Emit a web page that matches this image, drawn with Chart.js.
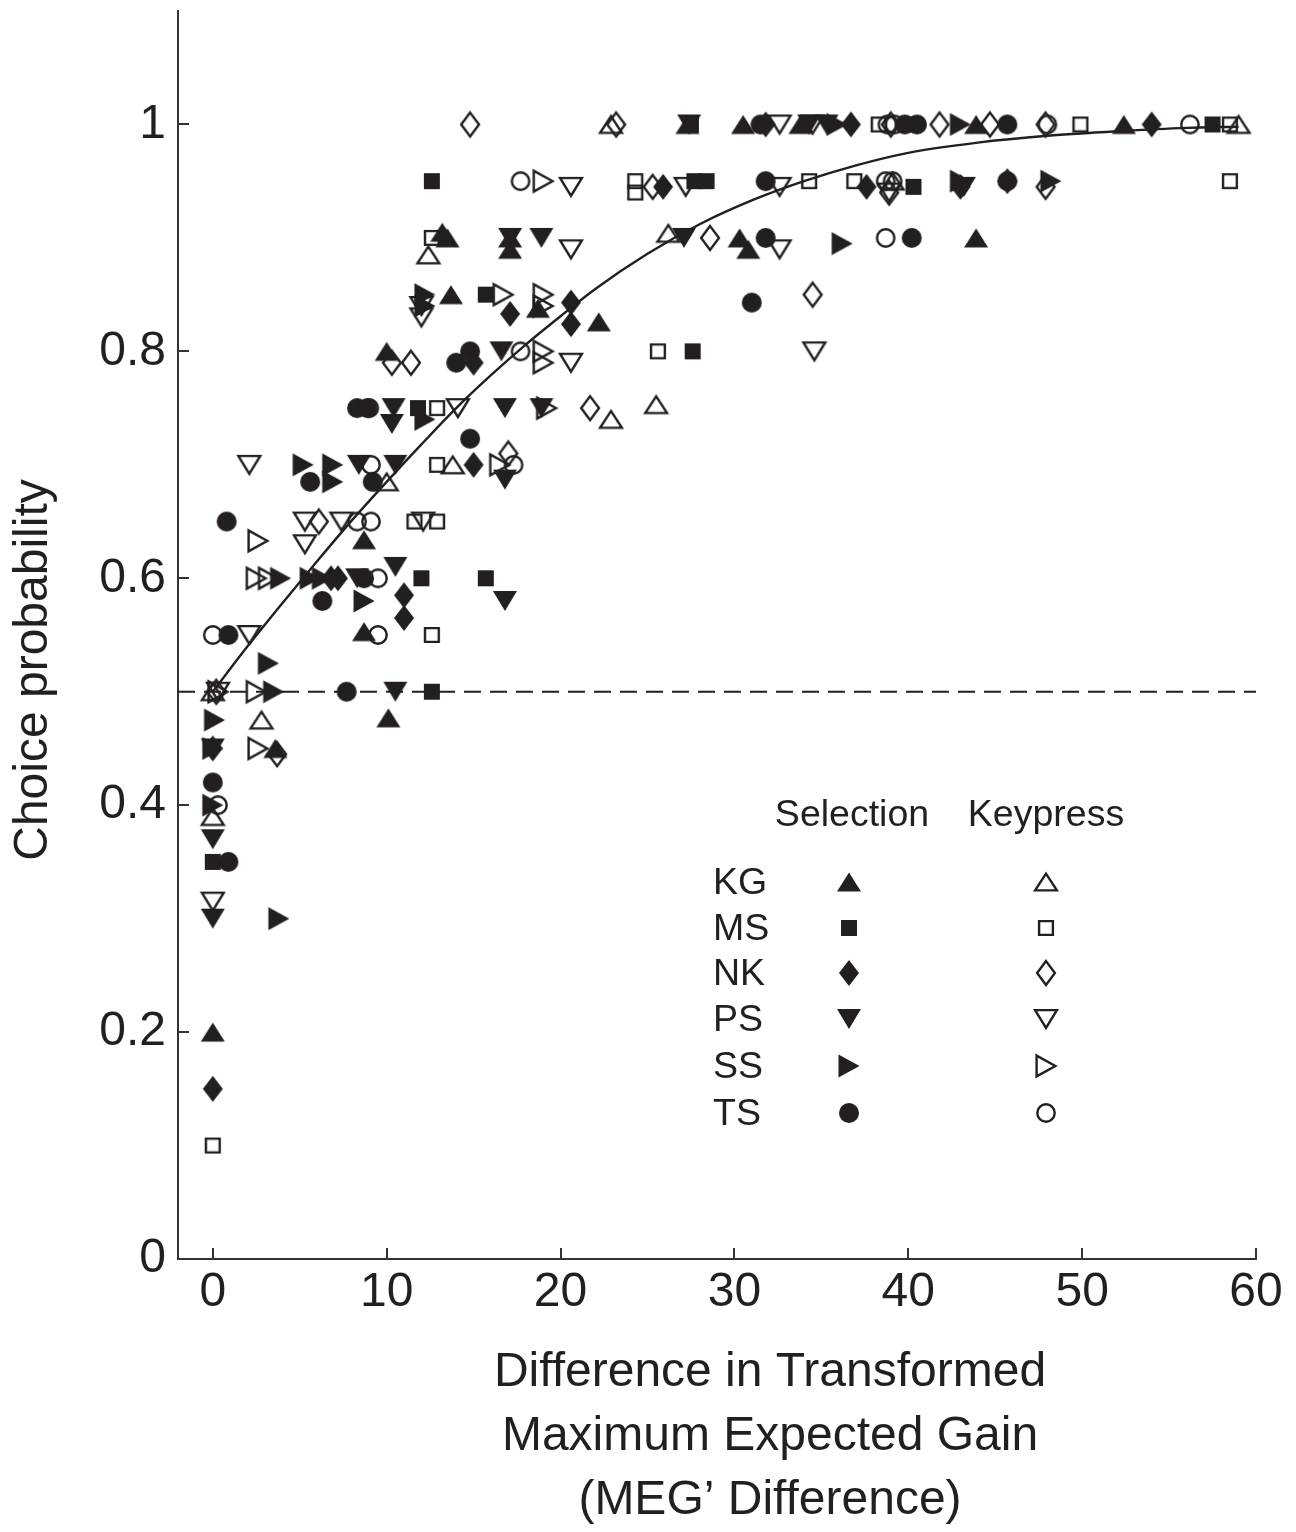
<!DOCTYPE html>
<html>
<head>
<meta charset="utf-8">
<script src="https://cdn.jsdelivr.net/npm/chart.js@4/dist/chart.umd.min.js"></script>
<style>
  html, body { margin: 0; padding: 0; background: #ffffff; overflow: hidden; }
  #wrap { width: 1296px; height: 1532px; position: relative; }
</style>
</head>
<body>
<div id="wrap"><canvas id="c" width="1296" height="1532"></canvas></div>
<script>
// ---------------- DATA ----------------
const xTicks = [0, 10, 20, 30, 40, 50, 60];
const xTickLabels = ['0', '10', '20', '30', '40', '50', '60'];
const yTicks = [0, 0.2, 0.4, 0.6, 0.8, 1];
const yTickLabels = ['0', '0.2', '0.4', '0.6', '0.8', '1'];

const subjects = ['KG', 'MS', 'NK', 'PS', 'SS', 'TS'];
const legendHeaders = ['Selection', 'Keypress'];
const xTitleLines = ['Difference in Transformed', 'Maximum Expected Gain', '(MEG\u2019 Difference)'];
const yTitle = 'Choice probability';

// KG
const kgSelX = [0, 10.1, 8.7, 8.7, 10.0, 13.7, 13.5, 13.2, 17.1, 17.1, 18.7, 22.2, 3.6, 27.3, 30.5, 33.8, 43.9, 52.4, 30.3, 30.8, 43.9];
const kgSelY = [0.2, 0.477, 0.553, 0.634, 0.8, 0.85, 0.9, 0.905, 0.9, 0.89, 0.838, 0.826, 0.45, 1, 1, 1, 1, 1, 0.9, 0.89, 0.9];
const kgKeyX = [0, 2.8, 10.0, 12.4, 13.8, 22.9, 25.5, 26.2, 22.9, 59.0, 39.1, 0];
const kgKeyY = [0.39, 0.475, 0.685, 0.885, 0.7, 0.74, 0.753, 0.904, 1, 1, 0.95, 0.5];
// MS
const msSelX = [12.6, 0, 12.0, 12.6, 11.8, 15.7, 15.7, 27.6, 27.5, 27.7, 28.4, 40.3, 57.5, 40.0];
const msSelY = [0.95, 0.35, 0.6, 0.5, 0.75, 0.6, 0.85, 0.8, 1, 0.95, 0.95, 0.945, 1, 1];
const msKeyX = [0, 12.6, 12.6, 11.6, 12.9, 12.9, 12.9, 24.3, 24.3, 25.6, 34.3, 36.9, 38.3, 49.9, 58.5, 58.5];
const msKeyY = [0.1, 0.9, 0.55, 0.65, 0.65, 0.7, 0.75, 0.95, 0.94, 0.8, 0.95, 0.95, 1, 1, 0.95, 1];
// NK
const nkSelX = [0, 11.0, 11.0, 15.0, 15.0, 17.1, 20.6, 20.6, 25.9, 36.7, 31.8, 54.0, 43.0, 45.7, 37.6, 6.8, 7.2, 0];
const nkSelY = [0.15, 0.585, 0.565, 0.7, 0.79, 0.833, 0.824, 0.843, 0.945, 1, 1, 1, 0.945, 0.95, 0.945, 0.6, 0.6, 0.45];
const nkKeyX = [14.8, 23.2, 28.6, 34.5, 21.7, 17.0, 11.4, 10.3, 6.1, 3.7, 0.2, 41.8, 44.7, 47.9, 47.9, 38.9, 25.3, 39.0];
const nkKeyY = [1, 1, 0.9, 0.85, 0.75, 0.71, 0.79, 0.79, 0.65, 0.445, 0.5, 1, 1, 1, 0.945, 0.94, 0.945, 1];
// PS
const psSelX = [0, 0, 0, 10.5, 16.8, 10.5, 10.5, 8.4, 10.4, 10.3, 16.8, 16.8, 18.9, 18.9, 17.1, 27.1, 16.6, 27.4, 35.3, 34.3, 43.2, 8.3];
const psSelY = [0.3, 0.37, 0.45, 0.5, 0.58, 0.61, 0.7, 0.7, 0.75, 0.736, 0.75, 0.687, 0.75, 0.9, 0.9, 0.9, 0.8, 1, 1, 1, 0.945, 0.6];
const psKeyX = [0, 2.1, 2.1, 5.3, 5.3, 7.4, 12.1, 12.0, 12.0, 14.1, 20.6, 20.6, 20.6, 27.2, 32.6, 32.6, 32.6, 34.6, 38.9, 34.5, 0.3];
const psKeyY = [0.315, 0.7, 0.55, 0.65, 0.63, 0.65, 0.65, 0.83, 0.84, 0.75, 0.89, 0.945, 0.79, 0.945, 1, 0.945, 0.89, 0.8, 0.94, 1, 0.5];
// SS
const ssSelX = [3.8, 0.1, 3.2, 3.5, 3.9, 5.2, 6.9, 6.9, 8.7, 12.2, 12.2, 12.2, 36.2, 35.9, 43.0, 43.0, 48.2, 5.6, 6.3, 0, 0];
const ssSelY = [0.3, 0.475, 0.525, 0.5, 0.6, 0.7, 0.7, 0.685, 0.58, 0.85, 0.84, 0.74, 0.895, 1, 1, 0.95, 0.95, 0.6, 0.6, 0.4, 0.45];
const ssKeyX = [2.6, 2.5, 3.2, 2.5, 2.6, 0.3, 16.7, 19.0, 19.0, 19.0, 19.0, 19.0, 16.5, 19.2];
const ssKeyY = [0.633, 0.6, 0.6, 0.5, 0.45, 0.5, 0.85, 0.85, 0.84, 0.8, 0.79, 0.95, 0.7, 0.75];
// TS
const tsSelX = [0.8, 0.9, 0.9, 0, 6.3, 7.7, 8.3, 8.9, 9.2, 14.0, 14.8, 14.8, 31.0, 31.8, 31.8, 40.2, 31.5, 45.7, 45.7, 39.8, 40.5, 8.7, 5.6];
const tsSelY = [0.65, 0.55, 0.35, 0.42, 0.58, 0.5, 0.75, 0.75, 0.685, 0.79, 0.8, 0.723, 0.843, 0.9, 0.95, 0.9, 1, 1, 0.95, 1, 1, 0.6, 0.685];
const tsKeyX = [0, 0.3, 9.1, 8.3, 9.5, 9.5, 9.1, 17.7, 17.7, 17.3, 38.7, 38.7, 39.1, 48.0, 56.2, 38.8, 39.2, 9.0];
const tsKeyY = [0.55, 0.4, 0.65, 0.65, 0.6, 0.55, 0.7, 0.95, 0.8, 0.7, 0.9, 0.95, 0.95, 1, 1, 1, 1, 0.75];

// fitted curve
const curveX = [0, 2, 4, 6, 8, 10, 12, 14, 16, 18, 20, 22, 25, 28, 31, 34, 37, 40, 44, 48, 52, 56, 59];
const curveY = [0.50, 0.54, 0.578, 0.615, 0.651, 0.685, 0.718, 0.75, 0.779, 0.806, 0.831, 0.855, 0.886, 0.912, 0.933, 0.95, 0.964, 0.975, 0.984, 0.99, 0.994, 0.997, 0.998];
// chance line
const chanceX = [-2, 60];
const chanceY = [0.5, 0.5];

// ---------------- MARKERS ----------------
const INK = '#231f20';
function makeMarker(shape, filled) {
  const c = document.createElement('canvas');
  c.width = 32; c.height = 32;
  const g = c.getContext('2d');
  const cx = 16, cy = 16;
  const k = filled ? 0 : 1.1; // inset for stroke
  g.beginPath();
  let w, h;
  switch (shape) {
    case 'up':
      w = 24 - 2 * k; h = 19 - 2 * k;
      g.moveTo(cx, cy - h / 2); g.lineTo(cx + w / 2, cy + h / 2); g.lineTo(cx - w / 2, cy + h / 2); g.closePath();
      break;
    case 'down':
      w = 24 - 2 * k; h = 20 - 2 * k;
      g.moveTo(cx - w / 2, cy - h / 2); g.lineTo(cx + w / 2, cy - h / 2); g.lineTo(cx, cy + h / 2); g.closePath();
      break;
    case 'right':
      w = 21 - 2 * k; h = 23 - 2 * k;
      g.moveTo(cx + w / 2, cy); g.lineTo(cx - w / 2, cy - h / 2); g.lineTo(cx - w / 2, cy + h / 2); g.closePath();
      break;
    case 'square':
      w = filled ? 16 : 16 - 2 * k;
      g.rect(cx - w / 2, cy - w / 2, w, w);
      break;
    case 'diamond':
      w = 20 - 2 * k; h = 26 - 2 * k;
      g.moveTo(cx, cy - h / 2); g.lineTo(cx + w / 2, cy); g.lineTo(cx, cy + h / 2); g.lineTo(cx - w / 2, cy); g.closePath();
      break;
    case 'circle':
      g.arc(cx, cy, filled ? 10 : 9.8 - k, 0, Math.PI * 2);
      break;
  }
  if (filled) { g.fillStyle = INK; g.fill(); }
  else { g.strokeStyle = INK; g.lineWidth = 2.4; g.lineJoin = 'miter'; g.stroke(); }
  return c;
}

const shapes = ['up', 'square', 'diamond', 'down', 'right', 'circle'];
const selMarkers = shapes.map(s => makeMarker(s, true));
const keyMarkers = shapes.map(s => makeMarker(s, false));

function pts(xs, ys) { return xs.map((x, i) => ({ x: x, y: ys[i] })); }

const selSeries = [[kgSelX, kgSelY], [msSelX, msSelY], [nkSelX, nkSelY], [psSelX, psSelY], [ssSelX, ssSelY], [tsSelX, tsSelY]];
const keySeries = [[kgKeyX, kgKeyY], [msKeyX, msKeyY], [nkKeyX, nkKeyY], [psKeyX, psKeyY], [ssKeyX, ssKeyY], [tsKeyX, tsKeyY]];

const datasets = [];
datasets.push({
  type: 'line', label: 'fit', data: pts(curveX, curveY),
  borderColor: INK, borderWidth: 2.4, pointRadius: 0, fill: false,
  cubicInterpolationMode: 'monotone', clip: false
});
datasets.push({
  type: 'line', label: 'chance', data: pts(chanceX, chanceY),
  borderColor: INK, borderWidth: 2, borderDash: [17, 9], pointRadius: 0, fill: false, clip: false
});
subjects.forEach((s, i) => {
  datasets.push({
    type: 'scatter', label: s + ' Selection', data: pts(selSeries[i][0], selSeries[i][1]),
    pointStyle: selMarkers[i], pointRadius: 10, clip: false
  });
});
subjects.forEach((s, i) => {
  datasets.push({
    type: 'scatter', label: s + ' Keypress', data: pts(keySeries[i][0], keySeries[i][1]),
    pointStyle: keyMarkers[i], pointRadius: 10, clip: false
  });
});

const FONT = '"Liberation Sans", Arial, Helvetica, sans-serif';

const decor = {
  id: 'decor',
  afterDraw(chart) {
    const ctx = chart.ctx;
    const xs = chart.scales.x, ys = chart.scales.y;
    const area = chart.chartArea;
    ctx.save();
    // inward tick marks
    ctx.strokeStyle = '#333333';
    ctx.lineWidth = 2;
    ctx.beginPath();
    xTicks.forEach(v => {
      const px = Math.round(xs.getPixelForValue(v));
      ctx.moveTo(px, area.bottom); ctx.lineTo(px, area.bottom - 11);
    });
    yTicks.forEach(v => {
      const py = Math.round(ys.getPixelForValue(v));
      ctx.moveTo(area.left, py); ctx.lineTo(area.left + 11, py);
    });
    ctx.stroke();

    // axis titles
    ctx.fillStyle = INK;
    ctx.font = '48px ' + FONT;
    ctx.textAlign = 'center';
    ctx.textBaseline = 'middle';
    xTitleLines.forEach((t, i) => ctx.fillText(t, 770, 1373 + i * 64));
    ctx.save();
    ctx.translate(34, 670);
    ctx.rotate(-Math.PI / 2);
    ctx.fillText(yTitle, 0, 0);
    ctx.restore();

    // legend
    ctx.font = '37.5px ' + FONT;
    ctx.textAlign = 'center';
    ctx.fillText(legendHeaders[0], 852, 816);
    ctx.fillText(legendHeaders[1], 1046, 816);
    const rowsY = [884, 930, 975, 1021, 1068, 1115];
    ctx.textAlign = 'left';
    subjects.forEach((s, i) => {
      ctx.fillText(s, 713, rowsY[i]);
      const a = selMarkers[i], b = keyMarkers[i];
      ctx.drawImage(a, 849 - a.width / 2, rowsY[i] - 2 - a.height / 2);
      ctx.drawImage(b, 1046 - b.width / 2, rowsY[i] - 2 - b.height / 2);
    });
    ctx.restore();
  }
};

new Chart(document.getElementById('c'), {
  type: 'scatter',
  data: { datasets: datasets },
  options: {
    responsive: false,
    animation: false,
    devicePixelRatio: 1,
    layout: { padding: { left: 0, right: 40, top: 8, bottom: 0 } },
    plugins: { legend: { display: false }, tooltip: { enabled: false }, title: { display: false } },
    scales: {
      x: {
        type: 'linear', min: -2, max: 60,
        grid: { display: false, drawTicks: false },
        border: { display: true, color: '#333333', width: 2 },
        afterBuildTicks: (scale) => { scale.ticks = xTicks.map(v => ({ value: v })); },
        afterFit: (scale) => { scale.height = 1532 - 1259; scale.paddingLeft = 0; scale.paddingRight = 0; },
        ticks: {
          color: INK, font: { family: FONT, size: 48 }, padding: 5, maxRotation: 0, autoSkip: false,
          callback: (v) => { const i = xTicks.indexOf(v); return i >= 0 ? xTickLabels[i] : ''; }
        }
      },
      y: {
        type: 'linear', min: 0, max: 1.1,
        grid: { display: false, drawTicks: false },
        border: { display: true, color: '#333333', width: 2 },
        afterBuildTicks: (scale) => { scale.ticks = yTicks.map(v => ({ value: v })); },
        afterFit: (scale) => { scale.width = 178; scale.paddingTop = 0; scale.paddingBottom = 0; },
        ticks: {
          color: INK, font: { family: FONT, size: 48 }, padding: 12, autoSkip: false,
          callback: (v) => { const i = yTicks.findIndex(t => Math.abs(t - v) < 1e-9); return i >= 0 ? yTickLabels[i] : ''; }
        }
      }
    }
  },
  plugins: [decor]
});
</script>
</body>
</html>
